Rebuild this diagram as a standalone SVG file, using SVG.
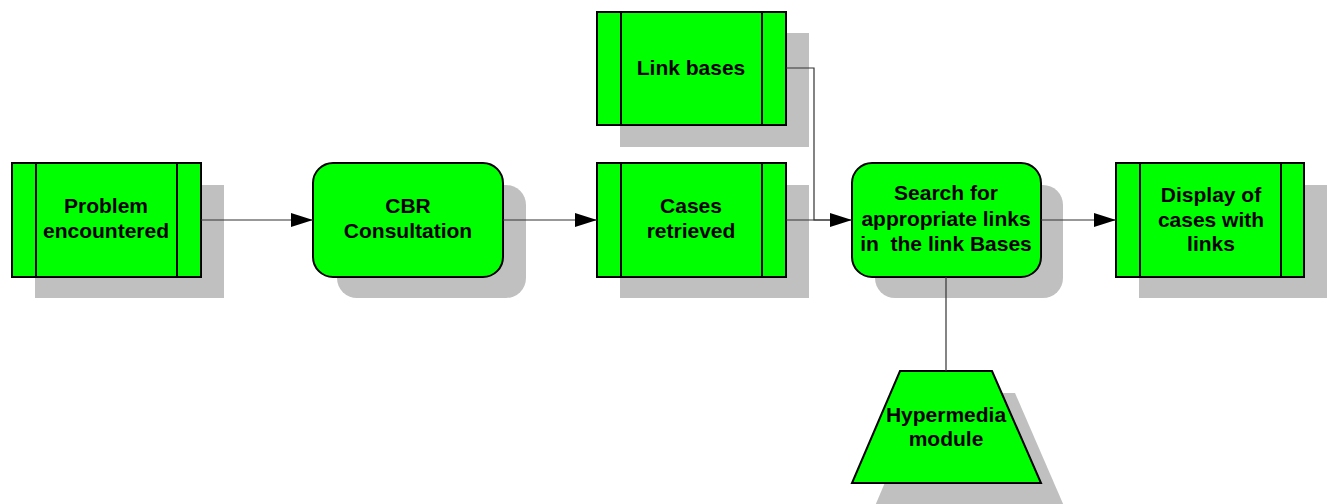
<svg xmlns="http://www.w3.org/2000/svg" width="1330" height="504" viewBox="0 0 1330 504">
  <style>
    .shadow { fill: #c0c0c0; stroke: none; }
    .box { fill: #00ff00; stroke: #000; stroke-width: 2; }
    .bar { stroke: #000; stroke-width: 2; fill: none; }
    .label { font-family: "Liberation Sans", Arial, sans-serif; font-weight: bold; font-size: 21px; fill: #000; text-anchor: middle; }
    .link { fill: none; stroke: #333; stroke-width: 1.2; }
  </style>
  <defs>
    <marker id="arrow" markerUnits="userSpaceOnUse" markerWidth="22" markerHeight="14" refX="22" refY="7" orient="auto">
      <path d="M0,0 L22,7 L0,14 Z" fill="#000"/>
    </marker>
  </defs>
  <rect width="1330" height="504" fill="#fff"/>

  <g id="problem">
    <rect class="shadow" x="35" y="185" width="189" height="113"/>
    <rect class="box" x="12" y="163" width="189" height="114"/>
    <line class="bar" x1="36" y1="163" x2="36" y2="277"/>
    <line class="bar" x1="177" y1="163" x2="177" y2="277"/>
    <text class="label" x="106" y="213">Problem</text>
    <text class="label" x="106" y="238">encountered</text>
  </g>

  <g id="cbr">
    <rect class="shadow" x="337" y="185" width="189" height="113" rx="20"/>
    <rect class="box" x="313" y="163" width="190" height="114" rx="20"/>
    <text class="label" x="408" y="213">CBR</text>
    <text class="label" x="408" y="238">Consultation</text>
  </g>

  <g id="link-bases">
    <rect class="shadow" x="620" y="33" width="189" height="114"/>
    <rect class="box" x="597" y="12" width="189" height="113"/>
    <line class="bar" x1="621" y1="12" x2="621" y2="125"/>
    <line class="bar" x1="762" y1="12" x2="762" y2="125"/>
    <text class="label" x="691" y="75">Link bases</text>
  </g>

  <g id="cases">
    <rect class="shadow" x="620" y="185" width="189" height="113"/>
    <rect class="box" x="597" y="163" width="189" height="114"/>
    <line class="bar" x1="621" y1="163" x2="621" y2="277"/>
    <line class="bar" x1="762" y1="163" x2="762" y2="277"/>
    <text class="label" x="691" y="213">Cases</text>
    <text class="label" x="691" y="238">retrieved</text>
  </g>

  <g id="search">
    <rect class="shadow" x="875" y="185" width="188" height="113" rx="20"/>
    <rect class="box" x="852" y="163" width="189" height="114" rx="20"/>
    <text class="label" x="946" y="200">Search for</text>
    <text class="label" x="946" y="226">appropriate links</text>
    <text class="label" x="946" y="251" xml:space="preserve">in  the link Bases</text>
  </g>

  <g id="display">
    <rect class="shadow" x="1139" y="185" width="188" height="113"/>
    <rect class="box" x="1116" y="163" width="188" height="114"/>
    <line class="bar" x1="1140" y1="163" x2="1140" y2="277"/>
    <line class="bar" x1="1281" y1="163" x2="1281" y2="277"/>
    <text class="label" x="1211" y="202">Display of</text>
    <text class="label" x="1211" y="227">cases with</text>
    <text class="label" x="1211" y="251">links</text>
  </g>

  <g id="hypermedia">
    <polygon class="shadow" points="923,393 1015,393 1064,506 875,506"/>
    <polygon class="box" points="900,371 992,371 1041,483 852,483"/>
    <text class="label" x="946" y="422">Hypermedia</text>
    <text class="label" x="946" y="446">module</text>
  </g>

  <g id="connectors">
    <line class="link" x1="201" y1="220" x2="313" y2="220" marker-end="url(#arrow)"/>
    <line class="link" x1="503" y1="220" x2="597" y2="220" marker-end="url(#arrow)"/>
    <line class="link" x1="786" y1="220" x2="852" y2="220" marker-end="url(#arrow)"/>
    <polyline class="link" points="786,68 814,68 814,220 830,220"/>
    <line class="link" x1="1041" y1="220" x2="1116" y2="220" marker-end="url(#arrow)"/>
    <line class="link" x1="946" y1="277" x2="946" y2="371"/>
  </g>
</svg>
